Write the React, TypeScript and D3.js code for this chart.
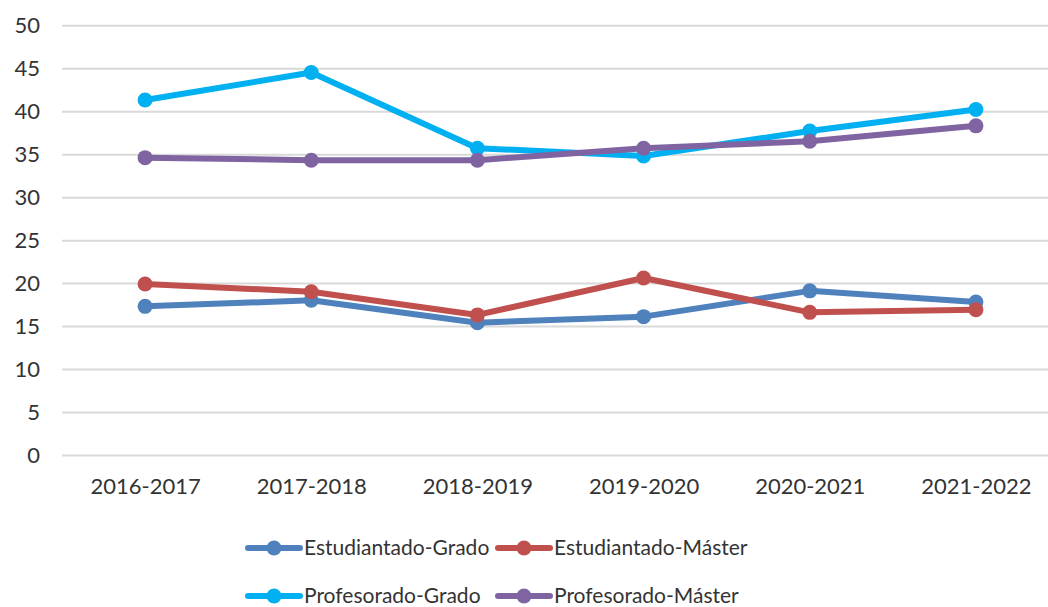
import React, { useEffect, useRef } from "react";
import * as d3 from "d3";

// cursos académicos
const cursos = ["2016-2017", "2017-2018", "2018-2019", "2019-2020", "2020-2021", "2021-2022"];

// valores
const estudiantadoGrado = [17.3, 18.0, 15.4, 16.1, 19.1, 17.8];
const estudiantadoMaster = [19.9, 19.0, 16.3, 20.6, 16.6, 16.9];
const profesoradoGrado = [41.3, 44.5, 35.7, 34.8, 37.7, 40.2];
const profesoradoMaster = [34.6, 34.3, 34.3, 35.7, 36.5, 38.3];

const nombres = ["Estudiantado-Grado", "Estudiantado-Máster", "Profesorado-Grado", "Profesorado-Máster"];
const colores = ["#4F81BD", "#C0504D", "#00B0F0", "#8064A2"];
const yTicks = [0, 5, 10, 15, 20, 25, 30, 35, 40, 45, 50];

export default function App() {
  const svgRef = useRef<SVGSVGElement>(null);

  useEffect(() => {
    const svg = d3.select(svgRef.current);
    svg.selectAll("*").remove();

    const series = [estudiantadoGrado, estudiantadoMaster, profesoradoGrado, profesoradoMaster];
    const fuente = "Lato, 'Open Sans', sans-serif";

    const x = d3.scalePoint<string>().domain(cursos).range([62, 1059]).padding(0.5);
    const y = d3.scaleLinear().domain([0, 50]).range([455, 25.3]);

    // rejilla y eje Y
    const yAxis = d3.axisLeft(y).tickValues(yTicks).tickSize(-(1059 - 62)).tickPadding(22);
    const gy = svg.append("g").attr("transform", "translate(62,0)").call(yAxis);
    gy.select(".domain").remove();
    gy.selectAll(".tick line").attr("stroke", "#D9D9D9").attr("stroke-width", 2);
    gy.selectAll(".tick text")
      .attr("fill", "#333")
      .style("font-family", fuente)
      .style("font-size", "22px");

    // eje X (solo etiquetas)
    const xAxis = d3.axisBottom(x).tickSize(0).tickPadding(23);
    const gx = svg.append("g").attr("transform", "translate(0,455)").call(xAxis);
    gx.select(".domain").remove();
    gx.selectAll(".tick text")
      .attr("fill", "#333")
      .style("font-family", fuente)
      .style("font-size", "22px");

    const line = d3.line<number>()
      .x((d, i) => x(cursos[i]) as number)
      .y(d => y(d));

    series.forEach((s, k) => {
      const g = svg.append("g");
      g.append("path")
        .attr("d", line(s))
        .attr("fill", "none")
        .attr("stroke", colores[k])
        .attr("stroke-width", 6)
        .attr("stroke-linejoin", "round")
        .attr("stroke-linecap", "round");
      g.selectAll("circle")
        .data(s)
        .join("circle")
        .attr("cx", (d, i) => x(cursos[i]) as number)
        .attr("cy", d => y(d))
        .attr("r", 7.5)
        .attr("fill", colores[k]);
    });

    // leyenda 2x2
    const legX = [248, 498];
    const legY = [548, 596];
    nombres.forEach((n, k) => {
      const lx = legX[k % 2];
      const ly = legY[Math.floor(k / 2)];
      const g = svg.append("g");
      g.append("line")
        .attr("x1", lx).attr("x2", lx + 52)
        .attr("y1", ly).attr("y2", ly)
        .attr("stroke", colores[k])
        .attr("stroke-width", 6)
        .attr("stroke-linecap", "round");
      g.append("circle").attr("cx", lx + 26).attr("cy", ly).attr("r", 7.5).attr("fill", colores[k]);
      g.append("text")
        .attr("x", lx + 56)
        .attr("y", ly)
        .attr("dy", "0.35em")
        .attr("fill", "#333")
        .style("font-family", fuente)
        .style("font-size", "21px")
        .text(n);
    });
  }, []);

  return (
    <svg
      ref={svgRef}
      width={1048}
      height={607}
      style={{ position: "absolute", left: 0, top: 0, background: "#fff" }}
    />
  );
}
